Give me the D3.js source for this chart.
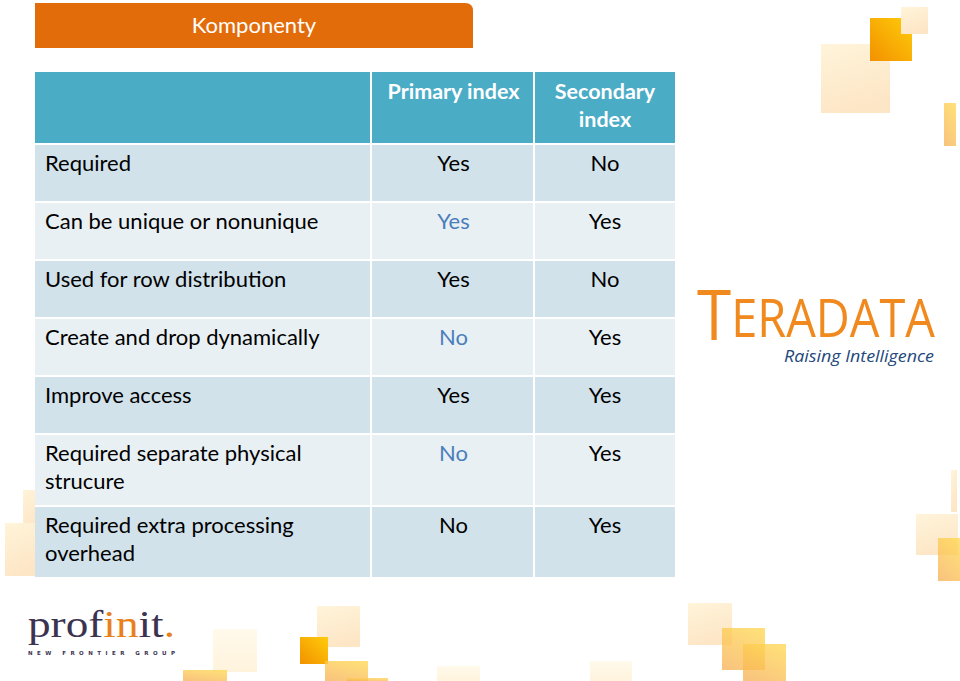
<!DOCTYPE html>
<html>
<head>
<meta charset="utf-8">
<script src="https://cdn.jsdelivr.net/npm/d3@7"></script>
<style>
  body { margin: 0; background: #fff; }
  svg { display: block; }
  text.ui { font-family: Lato, "Open Sans", sans-serif; }
</style>
</head>
<body>
<div id="chart"></div>
<script>
// Slide data
const title = "Komponenty";
const columns = ["", "Primary index", "Secondary\nindex"];
const features = [
  "Required",
  "Can be unique or nonunique",
  "Used for row distribution",
  "Create and drop dynamically",
  "Improve access",
  "Required separate physical\nstrucure",
  "Required extra processing\noverhead"
];
const primary = ["Yes", "Yes", "Yes", "No", "Yes", "No", "No"];
const secondary = ["No", "Yes", "No", "Yes", "Yes", "Yes", "Yes"];
// which primary-index answers are shown in blue on the slide
const primaryBlue = [false, true, false, true, false, true, false];

const width = 960, height = 681;

const svg = d3.select("#chart")
  .append("svg")
  .attr("width", width)
  .attr("height", height);

const defs = svg.append("defs");

// gradients for the decorative squares
function grad(id, stops, x1, y1, x2, y2) {
  const g = defs.append("linearGradient").attr("id", id)
    .attr("x1", x1).attr("y1", y1).attr("x2", x2).attr("y2", y2);
  stops.forEach(s => g.append("stop").attr("offset", s[0]).attr("stop-color", s[1]).attr("stop-opacity", s[2]));
}
grad("pale", [[0, "#fff4da", 1], [1, "#fde6c6", 1]], 0, 0, 0.3, 1);
grad("veryPale", [[0, "#fffaec", 1], [1, "#fff3dc", 1]], 0, 0, 0, 1);
grad("gold", [[0, "#ffcc0a", 1], [1, "#f29100", 1]], 1, 0, 0, 1);
grad("yellow", [[0, "#ffd54f", 0.9], [1, "#f7b256", 0.9]], 0.7, 0, 0.2, 1);

// background decoration
const decor = [
  [821, 44, 69, 69, "pale"], [870, 18, 42, 43, "gold"], [901, 7, 27, 27, "pale"],
  [944, 103, 12, 43, "yellow"],
  [951, 470, 6, 42, "pale"], [916, 514, 42, 41, "pale"], [938, 538, 22, 43, "yellow"],
  [23, 490, 12, 43, "pale"], [5, 523, 30, 53, "pale"],
  [213, 629, 44, 43, "veryPale"], [183, 670, 44, 11, "yellow"],
  [317, 606, 43, 41, "pale"], [300, 637, 28, 27, "gold"], [325, 661, 43, 20, "yellow"],
  [347, 678, 41, 3, "yellow"], [437, 666, 43, 15, "veryPale"], [590, 661, 42, 20, "veryPale"],
  [688, 603, 44, 42, "pale"], [722, 628, 43, 42, "yellow"], [743, 644, 43, 37, "yellow"]
];
svg.append("g").selectAll("rect")
  .data(decor)
  .join("rect")
  .attr("x", d => d[0]).attr("y", d => d[1])
  .attr("width", d => d[2]).attr("height", d => d[3])
  .attr("fill", d => `url(#${d[4]})`)
  .attr("opacity", d => d[4] === "yellow" ? 0.85 : 1);

// title bar, only top-right corner rounded
const tb = { x: 35, y: 3, w: 438, h: 45, r: 8 };
svg.append("path")
  .attr("d", `M${tb.x},${tb.y} H${tb.x + tb.w - tb.r} Q${tb.x + tb.w},${tb.y} ${tb.x + tb.w},${tb.y + tb.r} V${tb.y + tb.h} H${tb.x} Z`)
  .attr("fill", "#e36c0a");
svg.append("text")
  .attr("class", "ui")
  .attr("x", tb.x + tb.w / 2).attr("y", 33)
  .attr("text-anchor", "middle")
  .attr("fill", "#fff")
  .attr("font-size", 22)
  .text(title);

// table layout
const colX = d3.scaleOrdinal().domain([0, 1, 2]).range([35, 372, 535]);
const colW = d3.scaleOrdinal().domain([0, 1, 2]).range([337, 163, 140]);
const headerTop = 72, headerH = 71, gap = 2;
const lineH = 28;
const fs = 22;

const lines = features.map(f => f.split("\n"));
const rowH = lines.map(l => l.length === 1 ? 56 : 70);
const offsets = [0, ...d3.cumsum(rowH.map(h => h + gap))];
const y = d3.scaleLinear()
  .domain([0, d3.sum(rowH) + gap * rowH.length])
  .range([headerTop + headerH + gap, headerTop + headerH + gap + d3.sum(rowH) + gap * rowH.length]);

const table = svg.append("g");

// header
columns.forEach((c, i) => {
  table.append("rect")
    .attr("x", colX(i)).attr("y", headerTop)
    .attr("width", colW(i) - (i < 2 ? gap : 0)).attr("height", headerH)
    .attr("fill", "#4bacc6");
  c.split("\n").forEach((t, j) => {
    table.append("text")
      .attr("class", "ui")
      .attr("x", colX(i) + colW(i) / 2)
      .attr("y", headerTop + 27 + j * lineH)
      .attr("text-anchor", "middle")
      .attr("fill", "#fff")
      .attr("font-weight", "bold")
      .attr("font-size", 21.5)
      .text(t);
  });
});

// body rows
const rows = table.selectAll("g.row")
  .data(features.map((f, i) => ({ i, lines: lines[i], p: primary[i], s: secondary[i], blue: primaryBlue[i] })))
  .join("g")
  .attr("class", "row")
  .attr("transform", d => `translate(0,${y(offsets[d.i])})`);

[0, 1, 2].forEach(c => {
  rows.append("rect")
    .attr("x", colX(c))
    .attr("width", colW(c) - (c < 2 ? gap : 0))
    .attr("height", d => rowH[d.i])
    .attr("fill", d => d.i % 2 === 0 ? "#d1e2ea" : "#e9f0f4");
});

rows.each(function(d) {
  const g = d3.select(this);
  d.lines.forEach((t, j) => {
    g.append("text")
      .attr("class", "ui")
      .attr("x", 45).attr("y", 26 + j * lineH)
      .attr("fill", "#000")
      .attr("font-size", fs)
      .text(t);
  });
  g.append("text")
    .attr("class", "ui")
    .attr("x", colX(1) + colW(1) / 2).attr("y", 26)
    .attr("text-anchor", "middle")
    .attr("fill", d.blue ? "#4a7ebb" : "#000")
    .attr("font-size", fs)
    .text(d.p);
  g.append("text")
    .attr("class", "ui")
    .attr("x", colX(2) + colW(2) / 2).attr("y", 26)
    .attr("text-anchor", "middle")
    .attr("fill", "#000")
    .attr("font-size", fs)
    .text(d.s);
});

// Teradata logo
const td = svg.append("text")
  .attr("x", 697).attr("y", 337)
  .attr("fill", "#f0891e")
  .style("font-family", "'Open Sans', sans-serif")
  .style("font-weight", 400)
  .attr("font-size", 53)
  .attr("textLength", 238)
  .attr("lengthAdjust", "spacingAndGlyphs");
td.append("tspan").attr("font-size", 70).attr("dy", 3).text("T");
td.append("tspan").attr("dy", -3).text("ERADATA");
svg.append("text")
  .attr("x", 934).attr("y", 362)
  .attr("text-anchor", "end")
  .attr("fill", "#23487a")
  .style("font-family", "'Open Sans', sans-serif")
  .style("font-style", "italic")
  .attr("font-size", 16)
  .attr("textLength", 150)
  .attr("lengthAdjust", "spacingAndGlyphs")
  .text("Raising Intelligence");

// profinit logo
const pf = svg.append("text")
  .attr("x", 28).attr("y", 637)
  .style("font-family", "'Liberation Serif', 'DejaVu Serif', serif")
  .attr("font-size", 38)
  .attr("textLength", 147)
  .attr("lengthAdjust", "spacingAndGlyphs");
pf.append("tspan").attr("fill", "#3b3350").text("prof");
pf.append("tspan").attr("fill", "#e8811c").text("in");
pf.append("tspan").attr("fill", "#3b3350").text("it");
pf.append("tspan").attr("fill", "#e8811c").text(".");
svg.append("text")
  .attr("x", 28).attr("y", 655)
  .attr("fill", "#3b3350")
  .style("font-family", "'DejaVu Sans', sans-serif")
  .attr("font-size", 5.5)
  .attr("font-weight", "bold")
  .attr("textLength", 147)
  .attr("lengthAdjust", "spacing")
  .text("NEW FRONTIER GROUP");
</script>
</body>
</html>
